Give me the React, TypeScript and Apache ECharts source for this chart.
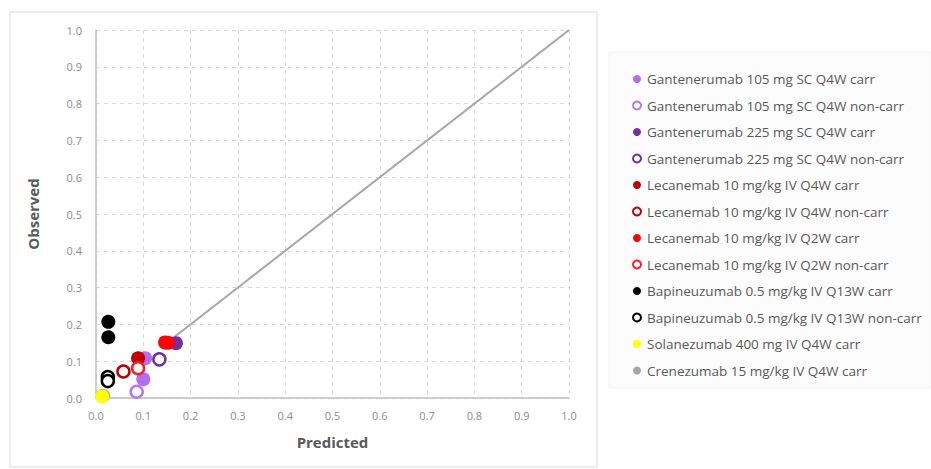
import React, { useEffect, useRef } from "react";
import * as echarts from "echarts";

const seriesNames = [
  "Gantenerumab 105 mg SC Q4W carr",
  "Gantenerumab 105 mg SC Q4W non-carr",
  "Gantenerumab 225 mg SC Q4W carr",
  "Gantenerumab 225 mg SC Q4W non-carr",
  "Lecanemab 10 mg/kg IV Q4W carr",
  "Lecanemab 10 mg/kg IV Q4W non-carr",
  "Lecanemab 10 mg/kg IV Q2W carr",
  "Lecanemab 10 mg/kg IV Q2W non-carr",
  "Bapineuzumab 0.5 mg/kg IV Q13W carr",
  "Bapineuzumab 0.5 mg/kg IV Q13W non-carr",
  "Solanezumab 400 mg IV Q4W carr",
  "Crenezumab 15 mg/kg IV Q4W carr",
];

const seriesColors = [
  "#b46cf0", "#b67ae6", "#7030a0", "#7030a0",
  "#c00000", "#c00000", "#ff0000", "#f0202a",
  "#000000", "#000000", "#ffff00", "#a6a6a6",
];

const seriesOpen = [false, true, false, true, false, true, false, true, false, true, false, false];

const gant105Carr = [[0.100, 0.051], [0.104, 0.108]];
const gant105NonCarr = [[0.086, 0.017]];
const gant225Carr = [[0.169, 0.149]];
const gant225NonCarr = [[0.134, 0.105]];
const lecQ4wCarr = [[0.089, 0.108]];
const lecQ4wNonCarr = [[0.058, 0.072]];
const lecQ2wCarr = [[0.146, 0.151], [0.152, 0.150]];
const lecQ2wNonCarr = [[0.089, 0.081]];
const bapiCarr = [[0.026, 0.207], [0.026, 0.165]];
const bapiNonCarr = [[0.025, 0.057], [0.025, 0.046]];
const solaCarr = [[0.013, 0.004]];
const crenCarr = [[0.015, 0.006]];

const seriesData = [
  gant105Carr, gant105NonCarr, gant225Carr, gant225NonCarr,
  lecQ4wCarr, lecQ4wNonCarr, lecQ2wCarr, lecQ2wNonCarr,
  bapiCarr, bapiNonCarr, solaCarr, crenCarr,
];

const identityLine = [[0.165, 0.165], [1.0, 1.0]];

export default function App() {
  const ref = useRef<HTMLDivElement>(null);
  useEffect(() => {
    if (!ref.current) return;
    const chart = echarts.init(ref.current, null, { renderer: "svg" });
    const font = "Open Sans";
    const scatterSeries = seriesNames.map((name, i) => ({
      name,
      type: "scatter",
      data: seriesData[i],
      symbol: "circle",
      symbolSize: seriesOpen[i] ? 12 : 14,
      z: name.startsWith("Crenezumab") ? 1 : 3 + i,
      itemStyle: seriesOpen[i]
        ? { color: "#ffffff", borderColor: seriesColors[i], borderWidth: 2.5, opacity: 1 }
        : { color: seriesColors[i], opacity: 1 },
      emphasis: { disabled: true },
    }));
    chart.setOption({
      animation: false,
      backgroundColor: "#ffffff",
      graphic: [
        {
          type: "rect",
          shape: { x: 10, y: 12, width: 587, height: 455 },
          style: { fill: "none", stroke: "#d9d9d9", lineWidth: 1 },
          silent: true,
        },
        {
          type: "rect",
          shape: { x: 609, y: 52, width: 322, height: 336 },
          style: { fill: "#fcfcfc", stroke: "#f2f2f2", lineWidth: 1 },
          silent: true,
          z: -1,
        },
      ],
      grid: { left: 96, right: 362, top: 30, bottom: 71 },
      xAxis: {
        type: "value",
        min: 0,
        max: 1,
        interval: 0.1,
        name: "Predicted",
        nameLocation: "middle",
        nameGap: 36,
        nameTextStyle: { fontFamily: font, fontSize: 15, color: "#595959", fontWeight: "bold" },
        axisLine: { show: true, lineStyle: { color: "#bfbfbf", width: 1.5 } },
        axisTick: { show: false },
        axisLabel: {
          fontFamily: font,
          fontSize: 11,
          color: "#8c8c8c",
          margin: 12,
          formatter: (v: number) => v.toFixed(1),
        },
        splitLine: { show: true, lineStyle: { color: "#d9d9d9", type: [4, 4], width: 1 } },
      },
      yAxis: {
        type: "value",
        min: 0,
        max: 1,
        interval: 0.1,
        name: "Observed",
        nameLocation: "middle",
        nameGap: 56,
        nameRotate: 90,
        nameTextStyle: { fontFamily: font, fontSize: 15, color: "#595959", fontWeight: "bold" },
        axisLine: { show: true, lineStyle: { color: "#bfbfbf", width: 1.5 } },
        axisTick: { show: false },
        axisLabel: {
          fontFamily: font,
          fontSize: 11,
          color: "#8c8c8c",
          margin: 14,
          formatter: (v: number) => v.toFixed(1),
        },
        splitLine: { show: true, lineStyle: { color: "#d9d9d9", type: [4, 4], width: 1 } },
      },
      legend: {
        orient: "vertical",
        left: 627,
        top: 67,
        itemGap: 12.5,
        itemWidth: 8,
        itemHeight: 8,
        icon: "circle",
        textStyle: { fontFamily: font, fontSize: 13.5, color: "#595959", padding: [0, 0, 0, 1] },
        data: seriesNames,
        selectedMode: false,
      },
      series: [
        {
          name: "identity",
          type: "line",
          data: identityLine,
          symbol: "none",
          lineStyle: { color: "#a6a6a6", width: 2 },
          z: 2,
          silent: true,
        },
        ...scatterSeries,
      ],
    });
    return () => chart.dispose();
  }, []);
  return (
    <div
      ref={ref}
      style={{ position: "absolute", left: 0, top: 0, width: 931, height: 469 }}
    />
  );
}
